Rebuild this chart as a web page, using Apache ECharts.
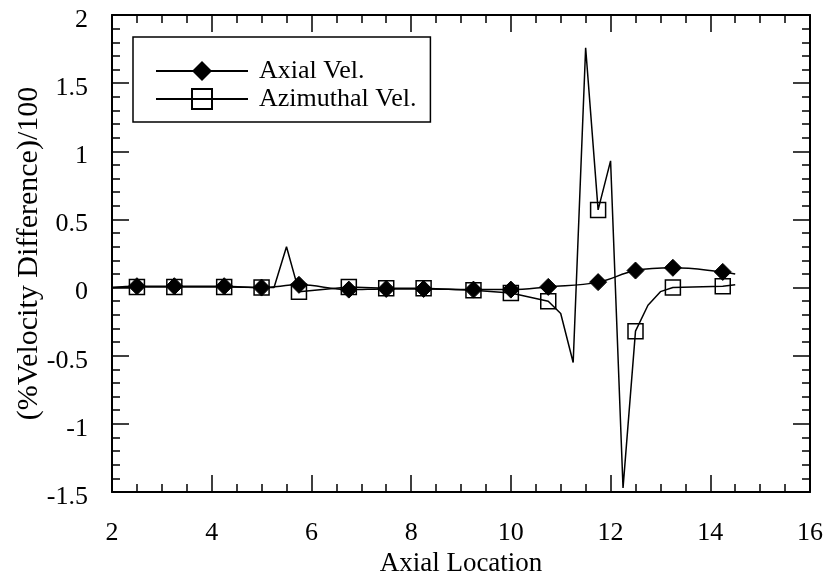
<!DOCTYPE html>
<html>
<head>
<meta charset="utf-8">
<script src="https://cdn.jsdelivr.net/npm/echarts@6/dist/echarts.min.js"></script>
<style>
  html, body { margin: 0; padding: 0; background: #fff; }
  #chart_line { width: 830px; height: 581px; }
</style>
</head>
<body>
<div id="chart_line"></div>
<script>
  /* 数据 */
  var xTicks = [2, 4, 6, 8, 10, 12, 14, 16];
  var yTicks = [-1.5, -1, -0.5, 0, 0.5, 1, 1.5, 2];

  var markerX = [2.5, 3.25, 4.25, 5, 5.75, 6.75, 7.5, 8.25, 9.25, 10, 10.75, 11.75, 12.5, 13.25, 14.25];

  var axialX = [2, 2.5, 3.25, 4.25, 5, 5.75, 6.75, 7.5, 8.25, 9.25, 10, 10.75, 11.75, 12.5, 13.25, 14.25, 14.5];
  var axialY = [0, 0.01, 0.01, 0.01, 0, 0.02, -0.015, -0.01, -0.01, -0.015, -0.015, 0.005, 0.04, 0.125, 0.145, 0.115, 0.1];

  var azimuthalX = [2, 2.5, 3.25, 4.25, 5, 5.25, 5.5, 5.75, 6.75, 7.5, 8.25, 9.25, 10, 10.75, 11, 11.25, 11.5, 11.75, 12, 12.25, 12.5, 12.75, 13, 13.25, 14.25, 14.5];
  var azimuthalY = [0, 0.005, 0.005, 0.005, 0, 0, 0.3, -0.03, 0.005, -0.005, -0.005, -0.02, -0.04, -0.1, -0.19, -0.55, 1.76, 0.57, 0.93, -1.47, -0.32, -0.13, -0.03, 0, 0.01, 0.02];

  var fontName = '"Liberation Serif", "Times New Roman", serif';

  /* 只在标记位置显示符号 */
  function buildData(xs, ys) {
    var data = [];
    xs.forEach(function (x, i) {
      var item = {value: [x, ys[i]]};
      if (markerX.indexOf(x) < 0) {
        item.symbol = 'none';
      }
      data.push(item);
    });
    return data;
  }

  function axisBase(show) {
    return {
      type: 'value',
      axisLine: {show: true, onZero: false, lineStyle: {color: '#000', width: 2}},
      axisTick: {show: true, inside: true, length: 17, lineStyle: {color: '#000', width: 1.5}},
      minorTick: {show: true, length: 8, lineStyle: {color: '#000', width: 1.5}},
      splitLine: {show: false},
      axisLabel: {show: show, color: '#000', fontSize: 26, fontFamily: fontName}
    };
  }

  function setupOptions() {
    var xBottom = axisBase(true);
    xBottom.position = 'bottom';
    xBottom.min = xTicks[0];
    xBottom.max = xTicks[xTicks.length - 1];
    xBottom.interval = 2;
    xBottom.minorTick.splitNumber = 4;
    xBottom.axisLabel.margin = 28;
    xBottom.name = 'Axial Location';
    xBottom.nameLocation = 'middle';
    xBottom.nameGap = 58;
    xBottom.nameTextStyle = {color: '#000', fontSize: 27, fontFamily: fontName};

    var xTop = axisBase(false);
    xTop.position = 'top';
    xTop.min = xBottom.min;
    xTop.max = xBottom.max;
    xTop.interval = 2;
    xTop.minorTick.splitNumber = 4;

    var yLeft = axisBase(true);
    yLeft.position = 'left';
    yLeft.min = yTicks[0];
    yLeft.max = yTicks[yTicks.length - 1];
    yLeft.interval = 0.5;
    yLeft.minorTick.splitNumber = 5;
    yLeft.axisLabel.margin = 24;
    // 标签略低于刻度
    yLeft.axisLabel.verticalAlign = 'top';
    yLeft.axisLabel.lineHeight = 10;
    yLeft.name = '(%Velocity Difference)/100';
    yLeft.nameLocation = 'middle';
    yLeft.nameGap = 68;
    yLeft.nameMoveOverlap = false;
    yLeft.nameTextStyle = {color: '#000', fontSize: 30, fontFamily: fontName};

    var yRight = axisBase(false);
    yRight.position = 'right';
    yRight.min = yLeft.min;
    yRight.max = yLeft.max;
    yRight.interval = 0.5;
    yRight.minorTick.splitNumber = 5;

    return {
      animation: false,
      backgroundColor: '#fff',
      grid: {left: 112, right: 20, top: 15, bottom: 89, show: false, outerBoundsMode: 'none'},
      legend: {
        orient: 'vertical',
        left: 133,
        top: 37,
        padding: [21, 14, 10, 22],
        borderColor: '#000',
        borderWidth: 1.5,
        itemWidth: 92,
        itemHeight: 25,
        itemGap: 2,
        textStyle: {color: '#000', fontSize: 26, lineHeight: 25, fontFamily: fontName, padding: [0, 0, 0, 6]},
        data: ['Axial Vel.', 'Azimuthal Vel.']
      },
      xAxis: [xBottom, xTop],
      yAxis: [yLeft, yRight],
      series: [
        {
          name: 'Axial Vel.',
          type: 'line',
          smooth: 0.4,
          symbol: 'diamond',
          symbolSize: 17,
          showAllSymbol: true,
          lineStyle: {color: '#000', width: 1.5},
          itemStyle: {color: '#000', borderColor: '#000'},
          data: buildData(axialX, axialY)
        },
        {
          name: 'Azimuthal Vel.',
          type: 'line',
          smooth: false,
          symbol: 'rect',
          symbolSize: 15,
          showAllSymbol: true,
          lineStyle: {color: '#000', width: 1.5},
          itemStyle: {color: 'rgba(0,0,0,0)', borderColor: '#000', borderWidth: 1.5},
          data: buildData(azimuthalX, azimuthalY)
        }
      ]
    };
  }

  var lineChart = echarts.init(document.getElementById('chart_line'));
  lineChart.setOption(setupOptions());
</script>
</body>
</html>
